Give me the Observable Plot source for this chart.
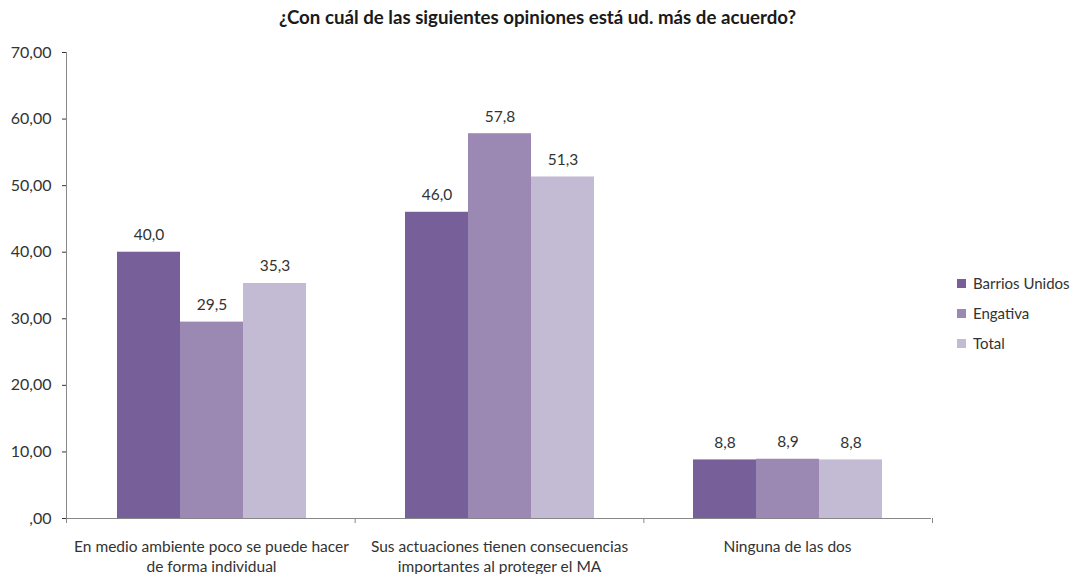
<!DOCTYPE html>
<html>
<head>
<meta charset="utf-8">
<script src="https://cdn.jsdelivr.net/npm/d3@7"></script>
<script src="https://cdn.jsdelivr.net/npm/@observablehq/plot@0.6"></script>
<style>
  html, body { margin: 0; padding: 0; background: #fff; }
  #wrap { position: relative; width: 1075px; height: 574px; font-family: Lato, "Open Sans", sans-serif; color: #333; }
  #title { position: absolute; left: 0; width: 1075px; top: 6px; text-align: center; font-weight: bold; font-size: 18.7px; color: #1a1a1a; }
  #legend { position: absolute; left: 957px; top: 268px; font-size: 15px; color: #333; }
  #legend div { display: flex; align-items: center; height: 30px; }
  #legend span.sw { display: inline-block; width: 9px; height: 9px; margin-right: 7px; }
  svg g[aria-label="y-axis tick"] { stroke: #888; }
</style>
</head>
<body>
<div id="wrap">
  <div id="title">¿Con cuál de las siguientes opiniones está ud. más de acuerdo?</div>
  <div id="chart"></div>
  <div id="legend"></div>
</div>
<script>
const categories = [
  "En medio ambiente poco se puede hacer\nde forma individual",
  "Sus actuaciones tienen consecuencias\nimportantes al proteger el MA",
  "Ninguna de las dos"
];
const series = ["Barrios Unidos", "Engativa", "Total"];
const barriosUnidos = [40.0, 46.0, 8.8];
const engativa = [29.5, 57.8, 8.9];
const total = [35.3, 51.3, 8.8];
const colors = ["#775F99", "#9B89B3", "#C3BAD3"];
const yTicks = [0, 10, 20, 30, 40, 50, 60, 70];

const valuesBySeries = [barriosUnidos, engativa, total];
const data = [];
categories.forEach((c, i) => {
  series.forEach((s, j) => data.push({cat: c, series: s, value: valuesBySeries[j][i]}));
});

const fmt1 = v => v.toFixed(1).replace(".", ",");
const fmtY = v => v === 0 ? ",00" : v.toFixed(2).replace(".", ",");

const svg = Plot.plot({
  width: 1075,
  height: 574,
  marginTop: 52,
  marginBottom: 56,
  marginLeft: 66,
  marginRight: 143,
  style: {fontFamily: "Lato, 'Open Sans', sans-serif", fontSize: "15px", color: "#333", background: "transparent"},
  fx: {domain: categories, paddingInner: 0, paddingOuter: 0, label: null, axis: null},
  x: {domain: series, paddingInner: 0, paddingOuter: 0.76, axis: null},
  y: {domain: [0, 70], label: null, axis: null},
  color: {domain: series, range: colors},
  marks: [
    Plot.axisY({ticks: yTicks, tickFormat: fmtY, tickSize: 5, tickPadding: 11, fontSize: 16, label: null, fill: "#333"}),
    Plot.axisFx({anchor: "bottom", tickSize: 0, tickPadding: 19, fontSize: 15.5, lineHeight: 1.3, label: null, fill: "#333"}),
    Plot.barY(data, {fx: "cat", x: "series", y: "value", fill: "series"}),
    Plot.ruleY([0], {stroke: "#888"}),
    Plot.text(data, {fx: "cat", x: "series", y: "value", text: d => fmt1(d.value), dy: -17, fill: "#333", fontSize: 15.5})
  ]
});

// axis line and category boundary ticks from the plot's own scales
const fxS = svg.scale("fx");
const yS = svg.scale("y");
const band = d3.scaleBand().domain(fxS.domain).range(fxS.range)
  .paddingInner(fxS.paddingInner ?? 0).paddingOuter(fxS.paddingOuter ?? 0).align(fxS.align ?? 0.5);
const yScale = d3.scaleLinear().domain(yS.domain).range(yS.range);
const g = d3.select(svg).append("g").attr("stroke", "#888").attr("stroke-width", 1);
const y0 = yScale(0), yTop = yScale(70);
const left = band(categories[0]);
g.append("line").attr("x1", left + 0.5).attr("x2", left + 0.5).attr("y1", yTop).attr("y2", y0 + 5);
categories.forEach(c => {
  const xr = band(c) + band.bandwidth();
  g.append("line").attr("x1", xr + 0.5).attr("x2", xr + 0.5).attr("y1", y0).attr("y2", y0 + 5);
});

document.getElementById("chart").appendChild(svg);

const legend = d3.select("#legend");
series.forEach((s, i) => {
  const row = legend.append("div");
  row.append("span").attr("class", "sw").style("background", colors[i]);
  row.append("span").text(s);
});
</script>
</body>
</html>
